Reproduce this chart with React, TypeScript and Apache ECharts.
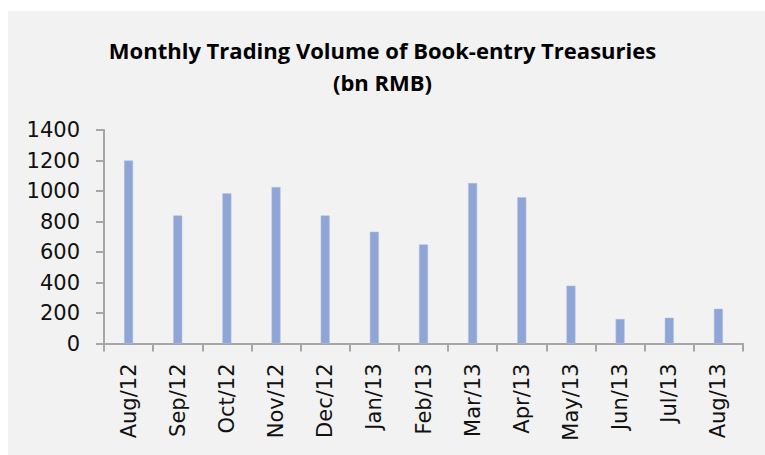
import React, { useEffect, useRef } from "react";
import * as echarts from "echarts";

const categories = ["Aug/12", "Sep/12", "Oct/12", "Nov/12", "Dec/12", "Jan/13", "Feb/13", "Mar/13", "Apr/13", "May/13", "Jun/13", "Jul/13", "Aug/13"];
const volumes = [1200, 840, 985, 1026, 840, 733, 650, 1052, 959, 379, 161, 169, 228];
const titleText = "Monthly Trading Volume of Book-entry Treasuries\n(bn RMB)";

export default function App() {
  const ref = useRef<HTMLDivElement>(null);
  useEffect(() => {
    document.body.style.margin = "0";
    const chart = echarts.init(ref.current!, null, { renderer: "svg" });
    chart.setOption({
      animation: false,
      backgroundColor: "#ffffff",
      graphic: [
        { type: "rect", left: 8, top: 11, z: -10, shape: { width: 757, height: 444 }, style: { fill: "#f2f2f2" } },
      ],
      title: {
        text: titleText,
        left: "center",
        top: 29,
        textStyle: { fontFamily: "Open Sans", fontWeight: "bold", fontSize: 22, lineHeight: 32, color: "#000" },
      },
      grid: { left: 104, right: 22, top: 130, bottom: 111.5, containLabel: false },
      xAxis: {
        type: "category",
        data: categories,
        axisLine: { lineStyle: { color: "#a6a6a6", width: 2 } },
        axisTick: { show: true, length: 8, alignWithLabel: false, lineStyle: { color: "#a6a6a6", width: 2 } },
        axisLabel: { rotate: 90, margin: 20, fontFamily: "DejaVu Sans", fontSize: 21, color: "#111", interval: 0 },
      },
      yAxis: {
        type: "value",
        min: 0,
        max: 1400,
        interval: 200,
        axisLine: { show: true, lineStyle: { color: "#a6a6a6", width: 2 } },
        axisTick: { show: true, length: 8, lineStyle: { color: "#a6a6a6", width: 2 } },
        splitLine: { show: false },
        axisLabel: { margin: 24, fontFamily: "DejaVu Sans", fontSize: 21, color: "#111", formatter: (v: number) => String(v) },
      },
      series: [
        {
          type: "bar",
          data: volumes,
          barWidth: 9,
          itemStyle: { color: "#8fa5d6", borderColor: "#b3c2e6", borderWidth: 0.5 },
        },
      ],
    });
    return () => chart.dispose();
  }, []);
  return <div ref={ref} style={{ width: 765, height: 455 }} />;
}
